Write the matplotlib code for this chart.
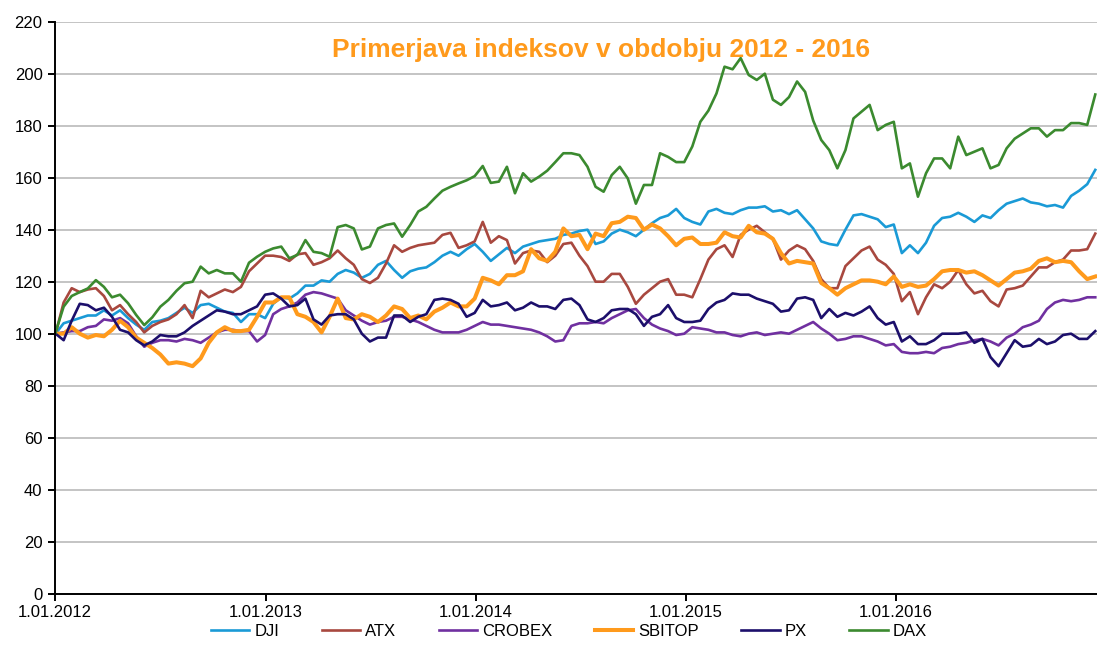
import matplotlib
matplotlib.use("Agg")
import matplotlib.pyplot as plt
import pandas as pd

plt.rcParams['font.family'] = ['Liberation Sans', 'DejaVu Sans']

# biweekly observations, index 1.01.2012 = 100
dates = pd.date_range('2012-01-02', periods=130, freq='14D')

dji = [100, 104, 105, 106, 107, 107, 109, 107, 109, 106, 103.5, 101.5, 104.5, 105, 106, 108, 110, 108, 111, 111.5, 110, 108.5, 108, 104.5, 107.5, 107.5,
       106, 111.5, 114, 113.5, 115.5, 118.5, 118.5, 120.5, 120, 123, 124.5, 123.5, 121.5, 123, 126.5, 128, 124.5, 121.5, 124, 125, 125.5, 127.5, 130, 131.5, 130, 132.5,
       134.5, 131.5, 128, 130.5, 133, 131, 133.5, 134.5, 135.5, 136, 136.5, 138, 138.5, 139.5, 140, 134.5, 135.5, 138.5, 140, 139, 137.5, 140, 142.5, 144.5, 145.5, 148,
       144.5, 143, 142, 147, 148, 146.5, 146, 147.5, 148.5, 148.5, 149, 147, 147.5, 146, 147.5, 144, 140.5, 135.5, 134.5, 134, 140, 145.5, 146, 145, 144, 141,
       142, 131, 134, 131, 135, 141.5, 144.5, 145, 146.5, 145, 143, 145.5, 144.5, 147.5, 150, 151, 152, 150.5, 150, 149, 149.5, 148.5, 153, 155, 157.5, 163]

atx = [100, 112, 117.5, 116, 117, 117.5, 114.5, 109, 111, 107.5, 104.5, 100.5, 103, 104.5, 105.5, 107.5, 111, 106, 116.5, 114, 115.5, 117, 116, 118, 124, 127,
       130, 130, 129.5, 128, 130.5, 131, 126.5, 127.5, 129, 132, 129, 126.5, 121, 119.5, 121.5, 127, 134, 131.5, 133, 134, 134.5, 135, 138, 138.8, 133, 134,
       135.5, 143, 135, 137.5, 136, 127, 131, 132, 131.5, 127.5, 130, 134.5, 135, 130, 126, 120, 120, 123, 123, 118, 111.5, 115, 117.5, 120, 121, 115,
       115, 114, 121, 128.5, 132.5, 134, 129.5, 138, 140, 141.5, 139, 136.5, 128.5, 132, 134, 132.5, 128, 121, 117.5, 117.5, 126, 129, 132, 133.5, 128.5, 126.5,
       123, 112.5, 116, 107.5, 114, 119, 117.5, 120, 124.5, 119, 115.5, 116.5, 112.5, 110.5, 117, 117.5, 118.5, 122, 125.5, 125.5, 127.5, 128.5, 132, 132, 132.5, 138.5]

crobex = [100, 100.5, 101, 101, 102.5, 103, 105.5, 105, 106, 104, 99, 95, 96.5, 97.5, 97.5, 97, 98, 97.5, 96.5, 98.5, 100.5, 101.5, 101.5, 101, 101, 97,
          99.5, 107.5, 109.5, 110.5, 112, 115, 116, 115.5, 114.5, 113.5, 109, 107, 105, 103.5, 104.5, 105, 106.5, 106.5, 105.5, 104.5, 103, 101.5, 100.5, 100.5, 100.5, 101.5,
          103, 104.5, 103.5, 103.5, 103, 102.5, 102, 101.5, 100.5, 99, 97, 97.5, 103, 104, 104, 104.5, 104, 106, 107.5, 109, 109.5, 106, 103.5, 102, 101, 99.5,
          100, 102.5, 102, 101.5, 100.5, 100.5, 99.5, 99, 100, 100.5, 99.5, 100, 100.5, 100, 101.5, 103, 104.5, 102, 100, 97.5, 98, 99, 99, 98, 97, 95.5,
          96, 93, 92.5, 92.5, 93, 92.5, 94.5, 95, 96, 96.5, 97.5, 98, 97, 95.5, 98.5, 100, 102.5, 103.5, 105, 109.5, 112, 113, 112.5, 113, 114, 114]

sbitop = [100, 100, 102.5, 100, 98.5, 99.5, 99, 101.5, 105, 102.5, 98.5, 96.5, 94.5, 92, 88.5, 89, 88.5, 87.5, 90.5, 96.5, 100.5, 102.5, 101, 101, 101.5, 106.5,
          112, 112, 114, 114, 107.5, 106.5, 104.5, 100.5, 106.5, 113.5, 106, 105.5, 107.5, 106.5, 104.5, 107, 110.5, 109.5, 106, 107, 105.5, 108.5, 110, 112, 110.5, 110.5,
          113.5, 121.5, 120.5, 119, 122.5, 122.5, 124, 132.5, 129, 128, 131.5, 140.5, 137.5, 138, 132.5, 138.5, 137.5, 142.5, 143, 145, 144.5, 140, 142, 140.5, 137.5, 134,
          136.5, 137, 134.5, 134.5, 135, 139, 137.5, 137, 141.5, 139, 138.5, 136.5, 131, 127, 128, 127.5, 127, 119.5, 117.5, 115, 117.5, 119, 120.5, 120.5, 120, 119,
          122, 118, 119, 118, 118.5, 121, 124, 124.5, 124.5, 123.5, 124, 122.5, 120.5, 118.5, 121, 123.5, 124, 125, 128, 129, 127.5, 128, 127.5, 124, 121, 122]

px = [100, 97.5, 105, 111.5, 111, 109, 110, 106.5, 101.5, 100.5, 97.5, 95.5, 97, 99.5, 99, 99, 100.5, 103, 105, 107, 109, 108.5, 107.5, 107.5, 109, 110.5,
      115, 115.5, 113.5, 110.5, 111, 113.5, 105.5, 103.5, 107, 107.5, 107.5, 105.5, 100, 97, 98.5, 98.5, 107, 107, 104.5, 106.5, 107.5, 113, 113.5, 113, 111.5, 106.5,
      108, 113, 110.5, 111, 112, 109, 110, 112, 110.5, 110.5, 109.5, 113, 113.5, 111, 105.5, 104.5, 106, 109, 109.5, 109.5, 107.5, 103, 106.5, 107.5, 111, 106,
      104.5, 104.5, 105, 109.5, 112, 113, 115.5, 115, 115, 113.5, 112.5, 111.5, 108.5, 109, 113.5, 114, 113, 106, 109.5, 106.5, 108, 107, 108.5, 110.5, 106, 103.5,
      104.5, 97, 99, 96, 96, 97.5, 100, 100, 100, 100.5, 96.5, 98, 91, 87.5, 92.5, 97.5, 95, 95.5, 98, 96, 97, 99.5, 100, 98, 98, 101]

dax = [100.5, 110.4, 114.5, 116, 117.4, 120.6, 118, 114, 115, 111.7, 107.2, 103.3, 106.3, 110.4, 113, 116.5, 119.4, 120, 125.8, 123.2, 124.5, 123.2, 123.2, 120, 127.3, 129.6,
       131.5, 132.8, 133.5, 129, 130.3, 136, 131.5, 131, 129.6, 141, 141.8, 140.5, 132.4, 133.5, 140.5, 141.8, 142.4, 137.3, 141.8, 147, 148.8, 152, 155, 156.5, 157.8, 159,
       160.6, 164.5, 158, 158.5, 164.2, 154, 161.7, 158.5, 160.4, 162.7, 166, 169.4, 169.4, 168.7, 164.2, 156.5, 154.6, 161, 164.2, 159.7, 150, 157.2, 157.2, 169.4, 168, 166,
       166, 172, 181.5, 185.8, 192.4, 202.7, 201.7, 206, 199.5, 197.6, 200, 190, 188, 191, 197, 193, 182, 174.5, 170.6, 163.6, 170.6, 182.8, 185.4, 188, 178.3, 180.3,
       181.5, 163.6, 165.5, 152.7, 161.7, 167.4, 167.4, 163.6, 175.8, 168.7, 170, 171.3, 163.6, 164.9, 171.3, 175, 177, 179, 179, 175.8, 178.3, 178.3, 181, 181, 180.3, 192]

names = ['DJI', 'ATX', 'CROBEX', 'SBITOP', 'PX', 'DAX']
series = [dji, atx, crobex, sbitop, px, dax]
colors = ['#1a9ad6', '#a8483f', '#7030a0', '#ff9a1c', '#1c0f6b', '#3b8a2f']
widths = [1.9, 1.9, 1.9, 2.9, 1.9, 1.9]

fig = plt.figure(figsize=(10.97, 6.66), dpi=100)
ax = fig.add_axes([55/1097, 1-593.7/666, 1-55/1097, 572/666])

for name, vals, c, lw in zip(names, series, colors, widths):
    ax.plot(dates, vals, color=c, lw=lw, label=name, solid_joinstyle='round')

ax.set_ylim(0, 220)
ax.set_yticks(range(0, 221, 20))
ax.set_xlim(pd.Timestamp('2012-01-01'), pd.Timestamp('2016-12-15'))
years = pd.date_range('2012-01-01', '2016-01-01', freq='YS')
ax.set_xticks(years)
ax.set_xticklabels([f"{d.day}.{d.month:02d}.{d.year}" for d in years])

ax.yaxis.grid(True, color='#bfbfbf', lw=1.3)
ax.set_axisbelow(True)
for s in ['top', 'right']:
    ax.spines[s].set_visible(False)
for s in ['left', 'bottom']:
    ax.spines[s].set_linewidth(1.4)
    ax.spines[s].set_color('black')
ax.tick_params(axis='both', labelsize=12, length=5, width=1.4, colors='black')
ax.tick_params(axis='y', pad=4)
ax.tick_params(axis='x', pad=3)

fig.text(601/1097, 1-50/666, 'Primerjava indeksov v obdobju 2012 - 2016',
         ha='center', va='center', color='#ff9a1c', fontsize=19, fontweight='bold')

fig.legend(loc='center', bbox_to_anchor=(569/1097, 1-631/666), ncol=6, frameon=False,
           fontsize=12, handlelength=2.3, handletextpad=0.3, columnspacing=2.55)

fig.savefig('out.png', dpi=100)
